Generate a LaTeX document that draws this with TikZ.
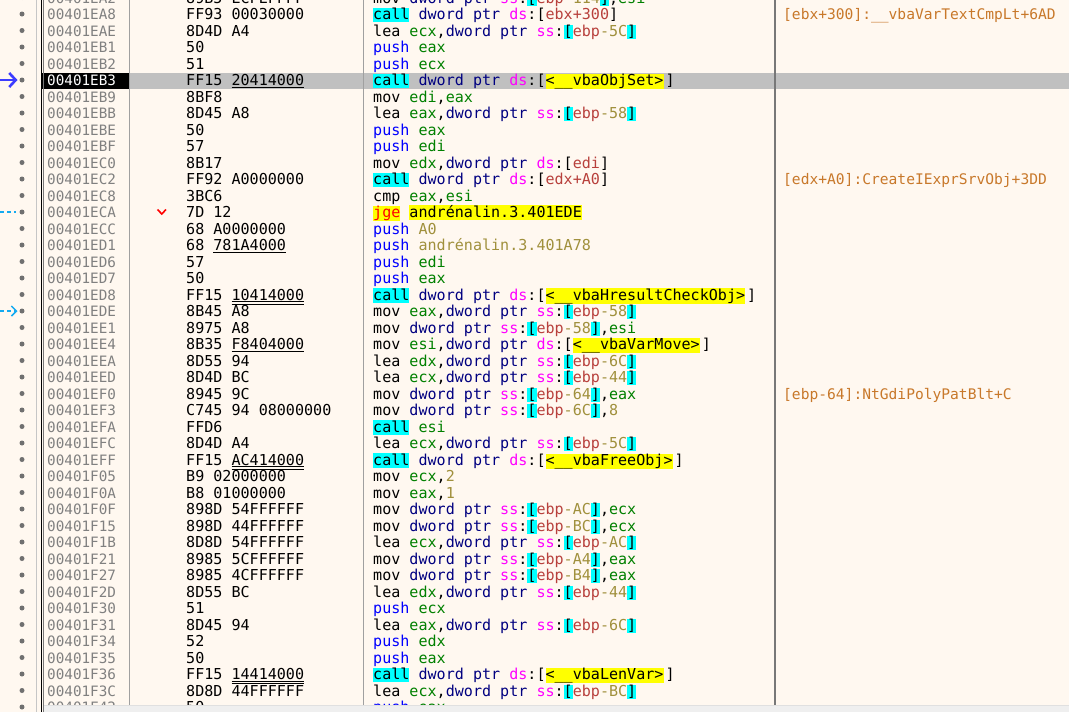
\documentclass[tikz,border=0pt]{standalone}
\usepackage{fontspec}
\usetikzlibrary{arrows.meta}
\newfontfamily\dbgmono{DejaVu Sans Mono}
\newcommand\dbgfont{\dbgmono\fontsize{15.07pt}{16pt}\selectfont}
\newcommand\adrfont{\dbgmono\fontsize{14.3pt}{16pt}\selectfont}
\newcommand\cmtfont{\dbgmono\fontsize{14.6pt}{16pt}\selectfont}
\definecolor{cbg}{HTML}{FFF8F0}
\definecolor{cband}{HTML}{C0C0C0}
\definecolor{caddr}{HTML}{808080}
\definecolor{cdot}{HTML}{707070}
\definecolor{creg}{HTML}{008000}
\definecolor{cptr}{HTML}{000080}
\definecolor{cseg}{HTML}{FF00FF}
\definecolor{cmem}{HTML}{B8403C}
\definecolor{cnum}{HTML}{A0903C}
\definecolor{cpush}{HTML}{0000FF}
\definecolor{ccmt}{HTML}{C8782A}
\definecolor{hcyan}{HTML}{00FFFF}
\definecolor{hyel}{HTML}{FFFF00}
\definecolor{cjsel}{HTML}{3C3CFF}
\definecolor{cjmp}{HTML}{14AAF0}
\definecolor{csep}{HTML}{A0A0A0}
\definecolor{csepd}{HTML}{787878}
\definecolor{cscroll}{HTML}{EFEFEF}
\newcommand\hlbox[2]{{\setlength{\fboxsep}{0pt}\colorbox{#1}{\rule[-2.5pt]{0pt}{13pt}#2}}}
\newcommand\HC[1]{\hlbox{hcyan}{#1}}
\newcommand\HY[1]{\hlbox{hyel}{#1}}
\newcommand\cR[1]{\textcolor{creg}{#1}}
\newcommand\cP[1]{\textcolor{cptr}{#1}}
\newcommand\cS[1]{\textcolor{cseg}{#1}}
\newcommand\cM[1]{\textcolor{cmem}{#1}}
\newcommand\cN[1]{\textcolor{cnum}{#1}}
\newcommand\cU[1]{\textcolor{cpush}{#1}}
\newcommand\SSm[2]{\cS{ss}:\HC{[}\cM{#1}\cN{#2}\HC{]}}
\newcommand\DSm[1]{\cS{ds}:[\cM{#1}]}
\newcommand\DSsym[1]{\cS{ds}:[\HY{<\_\_#1>}\hspace{2pt}]}
\newcommand\DP{\cP{dword ptr}}
\newcommand\ulS[1]{\setbox0\hbox{#1}\rlap{\rule[-2.6pt]{\wd0}{1.1pt}}\box0}
\newcommand\ulD[1]{\setbox0\hbox{#1}\rlap{\rule[-2.2pt]{\wd0}{0.9pt}}\rlap{\rule[-4.4pt]{\wd0}{0.9pt}}\box0}
\tikzset{
  adr/.style={anchor=base west, inner sep=0pt, font=\adrfont, text=caddr},
  byt/.style={anchor=base west, inner sep=0pt, font=\dbgfont, text=black},
  ins/.style={anchor=base west, inner sep=0pt, font=\dbgfont, text=black},
  cmt/.style={anchor=base west, inner sep=0pt, font=\cmtfont, text=ccmt},
  gdot/.style={fill=cdot},
  sepline/.style={draw=csep, line width=1pt},
  jsel/.style={draw=cjsel, line width=2.2pt, -{Straight Barb[length=6.5pt,width=14pt,line width=2.6pt]}},
  jdash/.style={draw=cjmp, line width=1.5pt, dash pattern=on 4pt off 3pt},
}
\newcommand\Row[6][]{%
  \pgfmathsetmacro\yb{19.5+16.5*(#3)}%
  \fill[gdot] (22,\yb-5.5) circle (2.5);
  \node[adr,#1] (a#2) at (47,\yb) {#4};
  \node[byt] (b#2) at (186,\yb) {#5};
  \node[ins] (i#2) at (373,\yb) {#6};
}
\begin{document}
\begin{tikzpicture}[x=1pt,y=-1pt]
\useasboundingbox (0,0) rectangle (1069,712);
\fill[cbg] (0,0) rectangle (1069,712);
% selected row band
\fill[cband] (130,72.5) rectangle (1069,89.2);
\fill[black] (42,72.5) rectangle (128.5,89.2);
% column lines
\draw[draw=csep!60, line width=1pt] (36.5,0) -- (36.5,712);
\draw[draw=black, line width=1pt] (41.5,0) -- (41.5,712);
\draw[draw=csepd, line width=1pt] (43.5,0) -- (43.5,712);
\draw[sepline] (129,0) -- (129,712);
\draw[sepline] (363.5,0) -- (363.5,712);
\draw[draw=csepd, line width=1.6pt] (775,0) -- (775,712);
% rows
\Row{rm}{-1}{00401EA2}{89B5 ECFEFFFF}{mov \DP\ \SSm{ebp}{-114},\cR{esi}}
\Row{r0}{0}{00401EA8}{FF93 00030000}{\HC{call} \DP\ \DSm{ebx+300}}
\Row{r1}{1}{00401EAE}{8D4D A4}{lea \cR{ecx},\DP\ \SSm{ebp}{-5C}}
\Row{r2}{2}{00401EB1}{50}{\cU{push} \cR{eax}}
\Row{r3}{3}{00401EB2}{51}{\cU{push} \cR{ecx}}
\Row[text=white]{r4}{4}{00401EB3}{FF15 \ulS{20414000}}{\HC{call} \DP\ \DSsym{vbaObjSet}}
\Row{r5}{5}{00401EB9}{8BF8}{mov \cR{edi},\cR{eax}}
\Row{r6}{6}{00401EBB}{8D45 A8}{lea \cR{eax},\DP\ \SSm{ebp}{-58}}
\Row{r7}{7}{00401EBE}{50}{\cU{push} \cR{eax}}
\Row{r8}{8}{00401EBF}{57}{\cU{push} \cR{edi}}
\Row{r9}{9}{00401EC0}{8B17}{mov \cR{edx},\DP\ \DSm{edi}}
\Row{r10}{10}{00401EC2}{FF92 A0000000}{\HC{call} \DP\ \DSm{edx+A0}}
\Row{r11}{11}{00401EC8}{3BC6}{cmp \cR{eax},\cR{esi}}
\Row{r12}{12}{00401ECA}{7D 12}{\HY{\textcolor{red}{jge}} \HY{andrénalin.3.401EDE}}
\Row{r13}{13}{00401ECC}{68 A0000000}{\cU{push} \cN{A0}}
\Row{r14}{14}{00401ED1}{68 \ulS{781A4000}}{\cU{push} \cN{andrénalin.3.401A78}}
\Row{r15}{15}{00401ED6}{57}{\cU{push} \cR{edi}}
\Row{r16}{16}{00401ED7}{50}{\cU{push} \cR{eax}}
\Row{r17}{17}{00401ED8}{FF15 \ulD{10414000}}{\HC{call} \DP\ \DSsym{vbaHresultCheckObj}}
\Row{r18}{18}{00401EDE}{8B45 A8}{mov \cR{eax},\DP\ \SSm{ebp}{-58}}
\Row{r19}{19}{00401EE1}{8975 A8}{mov \DP\ \SSm{ebp}{-58},\cR{esi}}
\Row{r20}{20}{00401EE4}{8B35 \ulS{F8404000}}{mov \cR{esi},\DP\ \DSsym{vbaVarMove}}
\Row{r21}{21}{00401EEA}{8D55 94}{lea \cR{edx},\DP\ \SSm{ebp}{-6C}}
\Row{r22}{22}{00401EED}{8D4D BC}{lea \cR{ecx},\DP\ \SSm{ebp}{-44}}
\Row{r23}{23}{00401EF0}{8945 9C}{mov \DP\ \SSm{ebp}{-64},\cR{eax}}
\Row{r24}{24}{00401EF3}{C745 94 08000000}{mov \DP\ \SSm{ebp}{-6C},\cN{8}}
\Row{r25}{25}{00401EFA}{FFD6}{\HC{call} \cR{esi}}
\Row{r26}{26}{00401EFC}{8D4D A4}{lea \cR{ecx},\DP\ \SSm{ebp}{-5C}}
\Row{r27}{27}{00401EFF}{FF15 \ulD{AC414000}}{\HC{call} \DP\ \DSsym{vbaFreeObj}}
\Row{r28}{28}{00401F05}{B9 02000000}{mov \cR{ecx},\cN{2}}
\Row{r29}{29}{00401F0A}{B8 01000000}{mov \cR{eax},\cN{1}}
\Row{r30}{30}{00401F0F}{898D 54FFFFFF}{mov \DP\ \SSm{ebp}{-AC},\cR{ecx}}
\Row{r31}{31}{00401F15}{898D 44FFFFFF}{mov \DP\ \SSm{ebp}{-BC},\cR{ecx}}
\Row{r32}{32}{00401F1B}{8D8D 54FFFFFF}{lea \cR{ecx},\DP\ \SSm{ebp}{-AC}}
\Row{r33}{33}{00401F21}{8985 5CFFFFFF}{mov \DP\ \SSm{ebp}{-A4},\cR{eax}}
\Row{r34}{34}{00401F27}{8985 4CFFFFFF}{mov \DP\ \SSm{ebp}{-B4},\cR{eax}}
\Row{r35}{35}{00401F2D}{8D55 BC}{lea \cR{edx},\DP\ \SSm{ebp}{-44}}
\Row{r36}{36}{00401F30}{51}{\cU{push} \cR{ecx}}
\Row{r37}{37}{00401F31}{8D45 94}{lea \cR{eax},\DP\ \SSm{ebp}{-6C}}
\Row{r38}{38}{00401F34}{52}{\cU{push} \cR{edx}}
\Row{r39}{39}{00401F35}{50}{\cU{push} \cR{eax}}
\Row{r40}{40}{00401F36}{FF15 \ulD{14414000}}{\HC{call} \DP\ \DSsym{vbaLenVar}}
\Row{r41}{41}{00401F3C}{8D8D 44FFFFFF}{lea \cR{ecx},\DP\ \SSm{ebp}{-BC}}
\Row{r42}{42}{00401F42}{50}{\cU{push} \cR{eax}}
% comments
\node[cmt] (c0) at (783,19.5) {[ebx+300]:\_\_vbaVarTextCmpLt+6AD};
\node[cmt] (c10) at (783,184.5) {[edx+A0]:CreateIExprSrvObj+3DD};
\node[cmt] (c23) at (783,399) {[ebp-64]:NtGdiPolyPatBlt+C};
% gutter jump marks
\coordinate (js1) at (0,80);
\coordinate (je1) at (17.5,80);
\draw[jsel] (js1) -- (je1);
\coordinate (js2) at (0,212);
\coordinate (je2) at (16,212);
\draw[jdash] (js2) -- (je2);
\coordinate (js3) at (0,311);
\coordinate (je3) at (17.5,311);
\draw[jdash, -{Straight Barb[length=5pt,width=10pt]}] (js3) -- (je3);
% branch marker
\coordinate (v1) at (157.5,209.5);
\coordinate (v2) at (161.8,214);
\coordinate (v3) at (166,209.5);
\draw[red, line width=1.6pt] (v1) -- (v2) -- (v3);
% horizontal scrollbar
\fill[cscroll] (44.2,704.5) rectangle (1069,712);
\draw[draw=black!12, line width=0.8pt] (44.2,704.9) -- (1069,704.9);
\end{tikzpicture}
\end{document}
